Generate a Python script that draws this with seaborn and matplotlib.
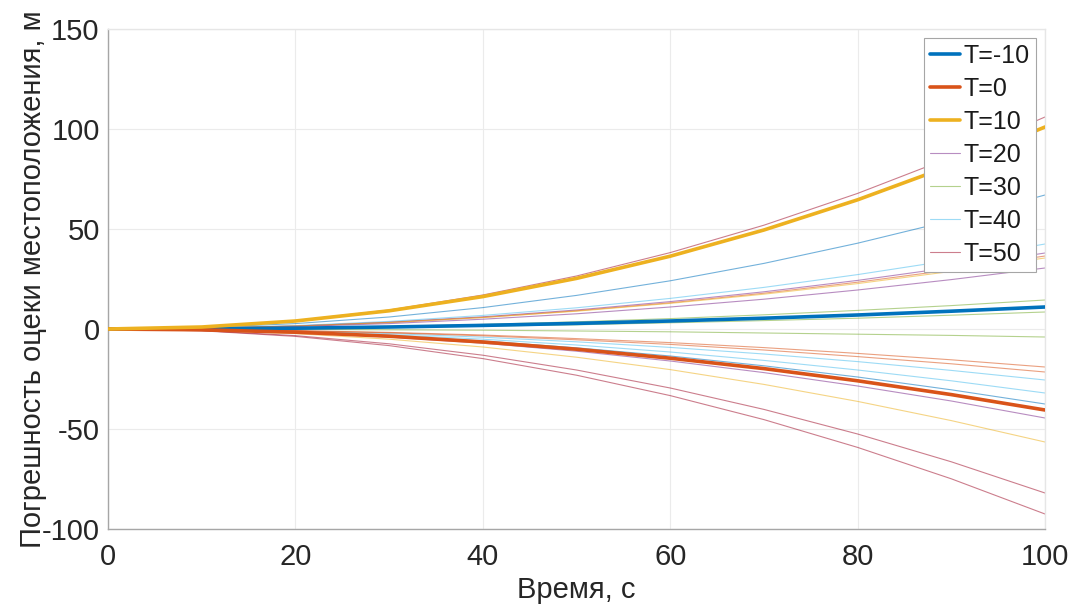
import matplotlib
matplotlib.use("Agg")
import matplotlib.pyplot as plt
import seaborn as sns
import pandas as pd

# ---- data ----
time_s = [0, 10, 20, 30, 40, 50, 60, 70, 80, 90, 100]

thick_labels = ["T=-10", "T=0", "T=10"]
thick_colors = ["#0072BD", "#D95319", "#EDB120"]
thick_values = [
    [0, 0.1, 0.4, 1.0, 1.8, 2.8, 4.0, 5.4, 7.0, 8.9, 11],
    [0, -0.4, -1.6, -3.6, -6.5, -10.1, -14.6, -19.8, -25.9, -32.8, -40.5],
    [0, 1.0, 4.0, 9.1, 16.2, 25.3, 36.4, 49.5, 64.6, 81.8, 101],
]

thin_labels = ["T=20", "T=30", "T=40", "T=50"]  # first four thin lines are in the legend
thin_colors = ["#7E2F8E", "#77AC30", "#4DBEEE", "#A2142F",
               "#0072BD", "#D95319", "#EDB120", "#7E2F8E", "#77AC30",
               "#4DBEEE", "#A2142F", "#0072BD", "#D95319", "#EDB120",
               "#7E2F8E", "#77AC30", "#4DBEEE", "#A2142F", "#D95319"]
thin_values = [
    [0, 0.4, 1.5, 3.4, 6.1, 9.5, 13.7, 18.6, 24.3, 30.8, 38],
    [0, 0.1, 0.6, 1.3, 2.3, 3.6, 5.2, 7.1, 9.3, 11.7, 14.5],
    [0, 0.4, 1.7, 3.8, 6.8, 10.6, 15.3, 20.8, 27.2, 34.4, 42.5],
    [0, 1.1, 4.2, 9.5, 17.0, 26.5, 38.2, 51.9, 67.8, 85.9, 106],
    [0, 0.7, 2.7, 6.0, 10.7, 16.8, 24.1, 32.8, 42.9, 54.3, 67],
    [0, 0.4, 1.5, 3.3, 5.8, 9.1, 13.1, 17.9, 23.4, 29.6, 36.5],
    [0, 0.4, 1.4, 3.2, 5.7, 8.9, 12.8, 17.4, 22.7, 28.8, 35.5],
    [0, 0.3, 1.2, 2.7, 4.9, 7.6, 11.0, 14.9, 19.5, 24.7, 30.5],
    [0, 0.1, 0.3, 0.8, 1.4, 2.1, 3.1, 4.2, 5.4, 6.9, 8.5],
    [0, -0.3, -1.0, -2.3, -4.1, -6.4, -9.2, -12.5, -16.3, -20.7, -25.5],
    [0, -0.8, -3.3, -7.4, -13.1, -20.5, -29.5, -40.2, -52.5, -66.4, -82],
    [0, -0.4, -1.5, -3.4, -6.0, -9.4, -13.5, -18.4, -24.0, -30.4, -37.5],
    [0, -0.2, -0.8, -1.7, -3.0, -4.8, -6.8, -9.3, -12.2, -15.4, -19],
    [0, -0.6, -2.3, -5.1, -9.0, -14.1, -20.3, -27.7, -36.2, -45.8, -56.5],
    [0, -0.4, -1.8, -4.0, -7.1, -11.1, -16.0, -21.8, -28.5, -36.0, -44.5],
    [0, 0.0, -0.2, -0.4, -0.6, -1.0, -1.4, -2.0, -2.6, -3.2, -4],
    [0, -0.3, -1.3, -2.9, -5.1, -8.0, -11.5, -15.7, -20.5, -25.9, -32],
    [0, -0.9, -3.7, -8.3, -14.8, -23.1, -33.3, -45.3, -59.2, -74.9, -92.5],
    [0, -0.2, -0.9, -1.9, -3.4, -5.4, -7.7, -10.5, -13.8, -17.4, -21.5],
]

x_ticks = [0, 20, 40, 60, 80, 100]
y_ticks = [-100, -50, 0, 50, 100, 150]
x_label = "Время, с"
y_label = "Погрешность оцеки местоположения, м"

# ---- style ----
sns.set_style("white")
plt.rcParams["font.family"] = ["Liberation Sans", "DejaVu Sans"]
plt.rcParams["axes.unicode_minus"] = False

fig = plt.figure(figsize=(10.72, 6.07), dpi=100)
ax = fig.add_axes([108 / 1072, 1 - 529 / 607, (1045 - 108) / 1072, 500 / 607])

handles = {}
for lab, col, vals in zip(thick_labels, thick_colors, thick_values):
    df = pd.DataFrame({"t": time_s, "e": vals})
    sns.lineplot(data=df, x="t", y="e", ax=ax, color=col, linewidth=2.6,
                 legend=False, zorder=3)
    handles[lab] = ax.lines[-1]

for i, (col, vals) in enumerate(zip(thin_colors, thin_values)):
    df = pd.DataFrame({"t": time_s, "e": vals})
    sns.lineplot(data=df, x="t", y="e", ax=ax, color=col, linewidth=0.8,
                 alpha=0.55, legend=False, zorder=2)
    if i < len(thin_labels):
        handles[thin_labels[i]] = ax.lines[-1]

ax.set_xlim(0, 100)
ax.set_ylim(-100, 150)
ax.set_xticks(x_ticks)
ax.set_yticks(y_ticks)
ax.set_xticklabels([str(v) for v in x_ticks])
ax.set_yticklabels([str(v) for v in y_ticks])
ax.grid(True, color="#ebebeb", linewidth=0.8)
ax.set_axisbelow(True)

for s in ["left", "bottom"]:
    ax.spines[s].set_color("#a6a6a6")
    ax.spines[s].set_linewidth(1.0)
for s in ["top", "right"]:
    ax.spines[s].set_color("#e6e6e6")
    ax.spines[s].set_linewidth(1.0)

ax.tick_params(axis="both", direction="in", length=5, width=0.8,
               color="#a6a6a6", labelsize=21, labelcolor="#262626")
ax.tick_params(axis="x", pad=10)
ax.tick_params(axis="y", pad=6)

ax.set_xlabel(x_label, fontsize=21, color="#262626", labelpad=4)
ax.set_ylabel(y_label, fontsize=21, color="#262626", labelpad=-4)

leg_labels = thick_labels + thin_labels
leg = ax.legend([handles[l] for l in leg_labels], leg_labels, loc="upper right",
                fontsize=18, frameon=True, fancybox=False, framealpha=1,
                edgecolor="#a6a6a6", borderaxespad=0.35, handlelength=1.2,
                handletextpad=0.15, labelspacing=0.36, borderpad=0.25)
leg.get_frame().set_linewidth(0.8)
for t in leg.get_texts():
    t.set_color("#1a1a1a")

fig.savefig("out.png", dpi=100)
